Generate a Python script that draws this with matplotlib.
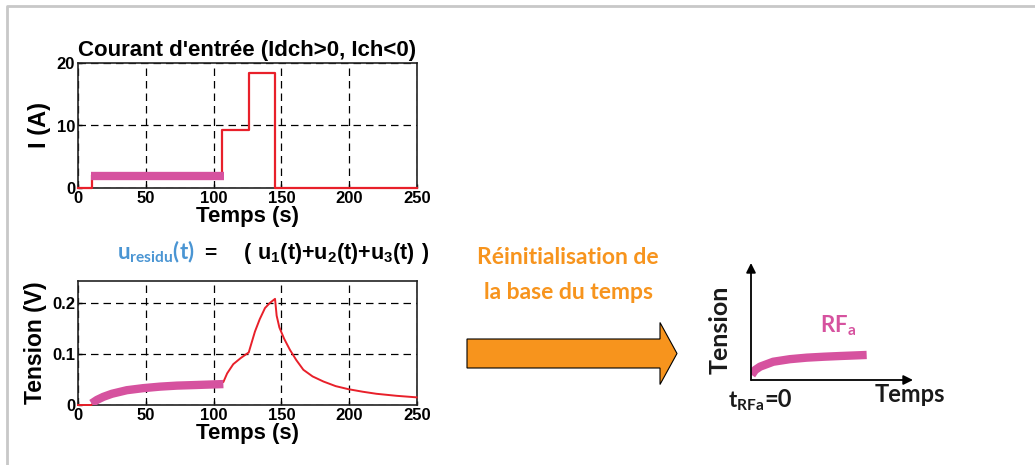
import matplotlib.pyplot as plt
import numpy as np
from matplotlib.patches import FancyArrow

# --- data ---
# input current (step signal)
i_t = [0, 10, 10, 106, 106, 126, 126, 145.5, 145.5, 250]
i_val = [0, 0, 2.0, 2.0, 9.3, 9.3, 18.4, 18.4, 0, 0]
# highlighted segment I_a
ia_t = [9.6, 107.4]
ia_val = [1.9, 1.9]

# residual voltage
u_t = [0, 10, 12, 18.7, 25, 36, 48, 60.5, 73, 85, 96, 107.2, 110, 114.5, 120, 125.9,
       130.5, 134, 137.9, 141.5, 145.3, 146.5, 148.5, 152, 156.3, 161, 166.2, 173,
       181, 190, 199.4, 210, 220, 235, 249.7]
u_val = [0, 0, 0.007, 0.016, 0.022, 0.029, 0.033, 0.036, 0.038, 0.039, 0.040, 0.045,
         0.062, 0.080, 0.092, 0.103, 0.144, 0.168, 0.190, 0.200, 0.208, 0.175, 0.152,
         0.130, 0.108, 0.088, 0.069, 0.056, 0.046, 0.037, 0.031, 0.026, 0.022, 0.018, 0.015]
# highlighted RF_a segment
rf_t = [10, 14, 18.7, 25, 36, 48, 60.5, 73, 85, 96, 107.2]
rf_val = [0.003, 0.010, 0.016, 0.022, 0.029, 0.033, 0.036, 0.038, 0.039, 0.040, 0.041]

# sketch on the right (axes fractions)
sk_t = [0.004, 0.025, 0.056, 0.137, 0.24, 0.344, 0.45, 0.549, 0.714]
sk_val = [0.043, 0.085, 0.114, 0.156, 0.178, 0.191, 0.199, 0.205, 0.214]

pink = '#D6529F'
red = '#E8202A'
orange = '#F7941D'
blue = '#4A95D3'
W, H = 1035, 465

plt.rcParams['font.family'] = ['Liberation Sans', 'DejaVu Sans']
plt.rcParams['font.weight'] = 'bold'
plt.rcParams['mathtext.fontset'] = 'custom'
plt.rcParams['mathtext.bf'] = 'Lato:bold'
plt.rcParams['mathtext.rm'] = 'Lato:bold'
plt.rcParams['mathtext.sf'] = 'Liberation Sans:bold'

fig = plt.figure(figsize=(W / 100, H / 100), dpi=100)

# overlay in pixel coordinates for decorations
bg = fig.add_axes([0, 0, 1, 1], zorder=-1)
bg.set_xlim(0, W)
bg.set_ylim(H, 0)
bg.axis('off')
bg.plot([6.5, 6.5, W], [H, 6.5, 6.5], color='#C8C8C8', lw=2)


def style(ax):
    ax.grid(True, color='black', linestyle=(0, (6, 4)), lw=0.9)
    ax.tick_params(direction='in', length=3, labelsize=12, width=1, pad=2)
    for lab in ax.get_xticklabels() + ax.get_yticklabels():
        lab.set_fontweight('bold')
    for s in ax.spines.values():
        s.set_linewidth(1.2)
        s.set_color('#222222')


# top: current
ax1 = fig.add_axes([78 / W, 1 - 188 / H, 339 / W, 125 / H])
ax1.plot(i_t, i_val, color=red, lw=1.6, zorder=3, clip_on=False)
ax1.plot(ia_t, ia_val, color=pink, lw=6, solid_capstyle='butt', zorder=4)
ax1.set_xlim(0, 250)
ax1.set_ylim(0, 20)
ax1.set_xticks([0, 50, 100, 150, 200, 250])
ax1.set_yticks([0, 10, 20])
style(ax1)
ax1.set_title("Courant d'entrée (Idch>0, Ich<0)", fontsize=16, fontweight='bold', pad=5)
ax1.set_xlabel('Temps (s)', fontsize=16, fontweight='bold', labelpad=0)
ax1.set_ylabel('I (A)', fontsize=17, fontweight='bold', labelpad=4)

# bottom: residual voltage
ax2 = fig.add_axes([78 / W, 1 - 405 / H, 339 / W, 124 / H])
ax2.plot(u_t, u_val, color=red, lw=1.4, zorder=3, clip_on=False)
ax2.plot(rf_t, rf_val, color=pink, lw=6, solid_capstyle='butt', zorder=4)
ax2.set_xlim(0, 250)
ax2.set_ylim(0, 0.243)
ax2.set_xticks([0, 50, 100, 150, 200, 250])
ax2.set_yticks([0, 0.1, 0.2])
ax2.set_yticklabels(['0', '0.1', '0.2'])
style(ax2)
ax2.set_xlabel('Temps (s)', fontsize=16, fontweight='bold', labelpad=0)
ax2.set_ylabel('Tension (V)', fontsize=16.5, fontweight='bold', labelpad=4)

# annotations (Calibri-like)
cal = ['Lato', 'DejaVu Sans']

bg.text(122, 153, r'$\mathbf{I_a}$', color=pink, fontsize=17, va='baseline')
bg.text(106, 354, r'$\mathbf{RF_a}$', color=pink, fontsize=18, va='baseline')
bg.text(117, 259, r'$\mathbf{u_{residu}(t)}$', color=blue, fontsize=16, va='baseline')
bg.text(204, 259, '=', color='black', fontsize=15, va='baseline')
bg.text(243, 259, r'$\mathsf{(\ u_1(t){+}u_2(t){+}u_3(t)\ )}$', color='black',
        fontsize=15.5, va='baseline')

bg.text(568, 264, 'Réinitialisation de', color=orange, fontsize=16.5,
        family=cal, fontweight='bold', ha='center', va='baseline')
bg.text(568, 299, 'la base du temps', color=orange, fontsize=16.5,
        family=cal, fontweight='bold', ha='center', va='baseline')

# big orange arrow
bg.add_patch(FancyArrow(467, 353.5, 193, 0, width=29, head_width=62, head_length=17,
                        length_includes_head=False, facecolor=orange,
                        edgecolor='black', lw=0.8))

# sketch on the right
ax3 = fig.add_axes([751 / W, 1 - 380 / H, 162 / W, 117 / H])
ax3.set_xlim(0, 1)
ax3.set_ylim(0, 1)
ax3.axis('off')
ax3.plot(sk_t, sk_val, color=pink, lw=6, solid_capstyle='butt')
ax3.annotate('', xy=(0, 1.0), xytext=(0, 0), xycoords='axes fraction',
             arrowprops=dict(arrowstyle='-|>', color='black', lw=1.3, mutation_scale=14,
                             shrinkA=0, shrinkB=0))
ax3.annotate('', xy=(1.0, 0), xytext=(0, 0), xycoords='axes fraction',
             arrowprops=dict(arrowstyle='-|>', color='black', lw=1.3, mutation_scale=14,
                             shrinkA=0, shrinkB=0))
bg.text(720, 330, 'Tension', rotation=90, fontsize=18, family=cal, fontweight='bold',
        ha='center', va='center', color='#1a1a1a')
bg.text(910, 402, 'Temps', fontsize=17, family=cal, fontweight='bold',
        ha='center', va='baseline', color='#1a1a1a')
bg.text(728, 407, r'$\mathbf{t_{RFa}}$', fontsize=16, va='baseline', color='#1a1a1a')
bg.text(764, 407, '=0', fontsize=17, family=cal, fontweight='bold', va='baseline',
        color='#1a1a1a')
bg.text(820, 332, r'$\mathbf{RF_a}$', fontsize=16, va='baseline', color=pink)

fig.savefig('out.png', dpi=100)
